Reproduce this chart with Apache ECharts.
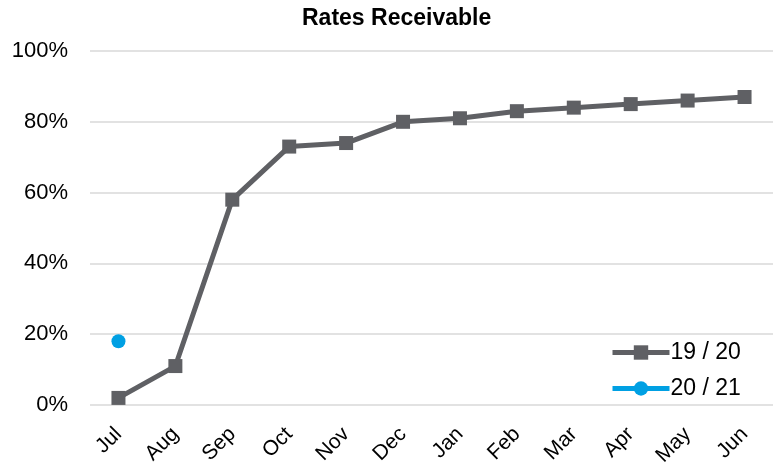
<!DOCTYPE html>
<html>
<head>
<meta charset="utf-8">
<script src="https://cdn.jsdelivr.net/npm/echarts@6/dist/echarts.min.js"></script>
<style>html,body{margin:0;padding:0;background:#fff;}#c{width:773px;height:467px;}</style>
</head>
<body>
<div id="c"></div>
<script>
const categories = ['Jul','Aug','Sep','Oct','Nov','Dec','Jan','Feb','Mar','Apr','May','Jun'];
const s1920 = [2, 11, 58, 73, 74, 80, 81, 83, 84, 85, 86, 87];
const s2021 = [18, null, null, null, null, null, null, null, null, null, null, null];
const yTicks = [0, 20, 40, 60, 80, 100];
const FONT = 'Liberation Sans, Arial, sans-serif';

const chart = echarts.init(document.getElementById('c'), null, {renderer: 'canvas'});
chart.setOption({
  animation: false,
  backgroundColor: '#ffffff',
  title: {
    text: 'Rates Receivable',
    left: 302,
    top: 7,
    padding: 0,
    textStyle: {fontFamily: FONT, fontSize: 23, fontWeight: 'bold', color: '#000'}
  },
  legend: {
    orient: 'vertical',
    left: 610,
    top: 341,
    padding: 0,
    itemWidth: 57,
    itemHeight: 18,
    itemGap: 13,
    lineStyle: {width: 5},
    textStyle: {fontFamily: FONT, fontSize: 23, color: '#000', padding: [0,0,0,-4]},
    data: ['19 / 20', '20 / 21']
  },
  grid: {left: 90, right: 0, top: 51, bottom: 62, containLabel: false, outerBoundsMode: 'none'},
  xAxis: {
    type: 'category',
    data: categories,
    boundaryGap: true,
    axisLine: {show: false},
    axisTick: {show: false},
    axisLabel: {rotate: 45, margin: 26, fontFamily: FONT, fontSize: 21, color: '#000'}
  },
  yAxis: {
    type: 'value',
    min: 0, max: 100, interval: 20,
    axisLine: {show: false},
    axisTick: {show: false},
    splitLine: {lineStyle: {color: '#d9d9d9', width: 1.5}},
    axisLabel: {
      margin: 22,
      fontFamily: FONT, fontSize: 22, color: '#000',
      formatter: v => yTicks.includes(v) ? v + '%' : ''
    }
  },
  series: [
    {
      name: '19 / 20', type: 'line', data: s1920,
      symbol: 'rect', symbolSize: 14,
      lineStyle: {color: '#5f6064', width: 5},
      itemStyle: {color: '#5f6064'}
    },
    {
      name: '20 / 21', type: 'line', data: s2021,
      symbol: 'circle', symbolSize: 14,
      lineStyle: {color: '#00a0e3', width: 5},
      itemStyle: {color: '#00a0e3'}
    }
  ]
});
</script>
</body>
</html>
